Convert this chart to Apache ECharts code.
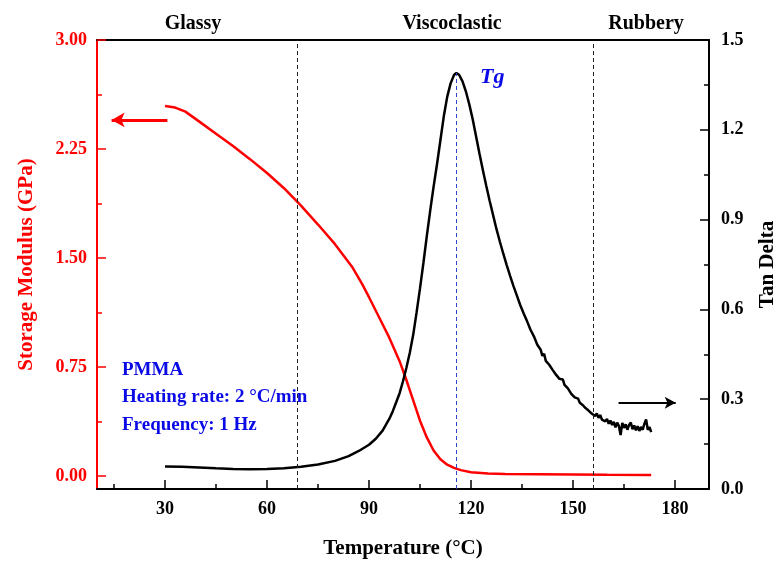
<!DOCTYPE html>
<html>
<head>
<meta charset="utf-8">
<script src="https://cdn.jsdelivr.net/npm/echarts@6/dist/echarts.min.js"></script>
<style>
html, body { margin: 0; padding: 0; background: #fff; }
#chart { width: 783px; height: 561px; }
</style>
</head>
<body>
<div id="chart"></div>
<script>
// storage modulus (GPa), left axis
var modT = [30, 33, 36, 40, 45, 50, 55, 60, 65, 70, 75, 80, 85, 88, 90, 93, 96, 99, 101, 103, 105, 107, 109, 111, 113, 115, 117, 120, 125, 130, 140, 150, 160, 173];
var modV = [2.546, 2.535, 2.507, 2.44, 2.355, 2.27, 2.18, 2.085, 1.98, 1.86, 1.73, 1.595, 1.44, 1.32, 1.23, 1.09, 0.95, 0.79, 0.66, 0.52, 0.38, 0.265, 0.175, 0.115, 0.077, 0.055, 0.04, 0.025, 0.016, 0.014, 0.012, 0.01, 0.008, 0.007];

// tan delta, right axis
var tanT = [30, 35, 40, 45, 50, 55, 60, 65, 70, 75, 80, 84, 87, 90, 92, 94, 96, 97, 98, 99, 100, 101, 102, 103, 104, 105, 106, 107, 108, 109, 110, 111, 112, 113, 114, 115, 115.7,
  116.5, 117.5, 118.5, 119.5, 120.5, 121.5, 122.5, 123.5, 124.5, 125.5, 126.5, 127.5, 128.5, 129.5, 130.5, 131.5, 132.5, 133.5, 134.5, 135.5, 136.5, 137.5, 138.5, 139.5, 140.5,
  141, 141.5, 142, 142.5, 143, 143.5, 144, 144.5, 145, 145.5, 146, 146.5, 147, 147.5, 148, 148.5, 149, 149.5, 150, 150.5, 151, 151.5, 152, 152.5, 153, 153.5, 154, 154.5, 155, 155.5,
  156, 156.5, 157, 157.5, 158, 158.5, 159, 159.5, 160, 160.5, 161, 161.5, 162, 162.5, 163, 163.5, 164, 164.5, 165, 165.5, 166, 166.5, 167, 167.5, 168, 168.5, 169, 169.5, 170, 170.5,
  171, 171.5, 172, 172.5, 173];
var tanV = [0.075, 0.074, 0.072, 0.069, 0.067, 0.066, 0.067, 0.069, 0.074, 0.082, 0.094, 0.11, 0.127, 0.148, 0.168, 0.195, 0.235, 0.26, 0.29, 0.32, 0.36, 0.405, 0.455, 0.515, 0.59, 0.67, 0.755, 0.845, 0.93, 1.01, 1.085, 1.165, 1.245, 1.31, 1.355, 1.383, 1.39,
  1.384, 1.362, 1.328, 1.285, 1.235, 1.178, 1.12, 1.065, 1.012, 0.962, 0.915, 0.868, 0.826, 0.786, 0.748, 0.712, 0.678, 0.646, 0.614, 0.586, 0.56, 0.532, 0.51, 0.482, 0.465,
  0.445, 0.452, 0.428, 0.432, 0.415, 0.412, 0.398, 0.4, 0.382, 0.38, 0.368, 0.362, 0.366, 0.348, 0.345, 0.336, 0.33, 0.318, 0.316, 0.306, 0.3, 0.302, 0.288, 0.289, 0.279, 0.272, 0.278, 0.263, 0.264, 0.252,
  0.256, 0.244, 0.252, 0.238, 0.247, 0.232, 0.238, 0.226, 0.234, 0.218, 0.229, 0.214, 0.224, 0.206, 0.222, 0.21, 0.18, 0.221, 0.204, 0.216, 0.198, 0.214, 0.222, 0.2, 0.212, 0.196, 0.21, 0.194, 0.207, 0.198,
  0.218, 0.232, 0.198, 0.207, 0.19];

var xMajor = [30, 60, 90, 120, 150, 180];
var xMinor = [15, 45, 75, 105, 135, 165];
var leftMajor = [0, 0.75, 1.5, 2.25, 3];
var leftMinor = [0.375, 1.125, 1.875, 2.625];
var regionLines = [69, 156];
var tgTemp = 115.7, tgPeak = 1.39;
var phaseLabels = ['Glassy', 'Viscoclastic', 'Rubbery'];
var noteLines = ['PMMA', 'Heating rate: 2 \u00b0C/min', 'Frequency: 1 Hz'];

var SERIF = '"Liberation Serif", "Times New Roman", serif';
var RED = '#ff0000';
var BLUE = '#0a0ae6';

function zip(a, b) {
  var out = [];
  for (var i = 0; i < a.length; i++) out.push([a[i], b[i]]);
  return out;
}

function boldText(color, size) {
  return {color: color, fontFamily: SERIF, fontWeight: 'bold', fontSize: size};
}

function label(text, x, y, color, size, align) {
  return {
    type: 'text', x: x, y: y,
    style: {text: text, fill: color, font: 'bold ' + size + 'px ' + SERIF, align: align, verticalAlign: 'middle'}
  };
}

var chart = echarts.init(document.getElementById('chart'));

var options = {
  animation: false,
  backgroundColor: '#fff',
  grid: {left: 97, right: 74, top: 40, bottom: 72, outerBoundsMode: 'none'},
  xAxis: [
    {
      type: 'value', min: 10, max: 190, position: 'bottom',
      axisLine: {show: true, onZero: false, lineStyle: {color: '#000', width: 2}},
      axisTick: {show: true, inside: true, length: 9, customValues: xMajor, lineStyle: {color: '#000', width: 1.5}},
      axisLabel: Object.assign({customValues: xMajor, margin: 11}, boldText('#000', 18)),
      splitLine: {show: false},
      name: 'Temperature (\u00b0C)', nameLocation: 'middle', nameGap: 49,
      nameTextStyle: boldText('#000', 21)
    },
    {
      type: 'value', min: 10, max: 190, position: 'bottom',
      axisLine: {show: false, onZero: false},
      axisTick: {show: true, inside: true, length: 5, customValues: xMinor, lineStyle: {color: '#000', width: 1.5}},
      axisLabel: {show: false},
      splitLine: {show: false}
    },
    {
      type: 'value', min: 10, max: 190, position: 'top',
      axisLine: {show: true, onZero: false, lineStyle: {color: '#000', width: 2}},
      axisTick: {show: false},
      axisLabel: {show: false},
      splitLine: {show: false}
    }
  ],
  yAxis: [
    {
      type: 'value', min: -0.09, max: 3, position: 'left',
      axisLine: {show: true, onZero: false, lineStyle: {color: RED, width: 2}},
      axisTick: {show: true, inside: true, length: 9, customValues: leftMajor, lineStyle: {color: RED, width: 1.5}},
      axisLabel: Object.assign({customValues: leftMajor, margin: 10, formatter: function (v) { return v.toFixed(2); }}, boldText(RED, 18)),
      splitLine: {show: false},
      name: 'Storage Modulus (GPa)', nameLocation: 'middle', nameGap: 60,
      nameTextStyle: boldText(RED, 21)
    },
    {
      type: 'value', min: 0, max: 1.5, interval: 0.3, position: 'right',
      axisLine: {show: true, onZero: false, lineStyle: {color: '#000', width: 2}},
      axisTick: {show: true, inside: true, length: 9, lineStyle: {color: '#000', width: 1.5}},
      minorTick: {show: true, splitNumber: 2, length: 5, lineStyle: {color: '#000', width: 1.5}},
      axisLabel: Object.assign({margin: 12, formatter: function (v) { return v.toFixed(1); }}, boldText('#000', 18)),
      splitLine: {show: false},
      name: 'Tan Delta', nameLocation: 'middle', nameGap: 48,
      nameTextStyle: boldText('#000', 21)
    },
    {
      type: 'value', min: -0.09, max: 3, position: 'left',
      axisLine: {show: false, onZero: false},
      axisTick: {show: true, inside: true, length: 5, customValues: leftMinor, lineStyle: {color: RED, width: 1.5}},
      axisLabel: {show: false},
      splitLine: {show: false}
    }
  ],
  series: [
    {
      name: 'Storage Modulus',
      type: 'line',
      yAxisIndex: 0,
      data: zip(modT, modV),
      showSymbol: false,
      lineStyle: {color: RED, width: 2.5},
      markLine: {
        silent: true, symbol: 'none', label: {show: false},
        data: [
          [{coord: [regionLines[0], -0.09], lineStyle: {color: '#222', width: 1, type: [4, 3]}}, {coord: [regionLines[0], 3]}],
          [{coord: [regionLines[1], -0.09], lineStyle: {color: '#222', width: 1, type: [4, 3]}}, {coord: [regionLines[1], 2.98]}],
          [{coord: [30.7, 2.45], symbol: 'none', lineStyle: {color: RED, width: 3, type: 'solid'}},
           {coord: [14.3, 2.45], symbol: 'arrow', symbolSize: [11, 13]}]
        ]
      }
    },
    {
      name: 'Tan Delta',
      type: 'line',
      yAxisIndex: 1,
      data: zip(tanT, tanV),
      showSymbol: false,
      lineStyle: {color: '#000', width: 2.5},
      markLine: {
        silent: true, symbol: 'none', label: {show: false},
        data: [
          [{coord: [tgTemp, 0], lineStyle: {color: '#3344cc', width: 1, type: [4, 3]}}, {coord: [tgTemp, tgPeak]}],
          [{coord: [163.4, 0.288], symbol: 'none', lineStyle: {color: '#000', width: 2, type: 'solid'}},
           {coord: [180.2, 0.288], symbol: 'arrow', symbolSize: [9, 11]}]
        ]
      }
    }
  ],
  graphic: [
    label(phaseLabels[0], 193, 24, '#000', 20, 'center'),
    label(phaseLabels[1], 452, 24, '#000', 20, 'center'),
    label(phaseLabels[2], 646, 24, '#000', 20, 'center'),
    {type: 'text', x: 480, y: 77, style: {text: 'Tg', fill: BLUE, font: 'italic bold 22px ' + SERIF, verticalAlign: 'middle'}},
    label(noteLines[0], 122, 370, BLUE, 19, 'left'),
    label(noteLines[1], 122, 397, BLUE, 19, 'left'),
    label(noteLines[2], 122, 425, BLUE, 19, 'left')
  ]
};

chart.setOption(options);
</script>
</body>
</html>
